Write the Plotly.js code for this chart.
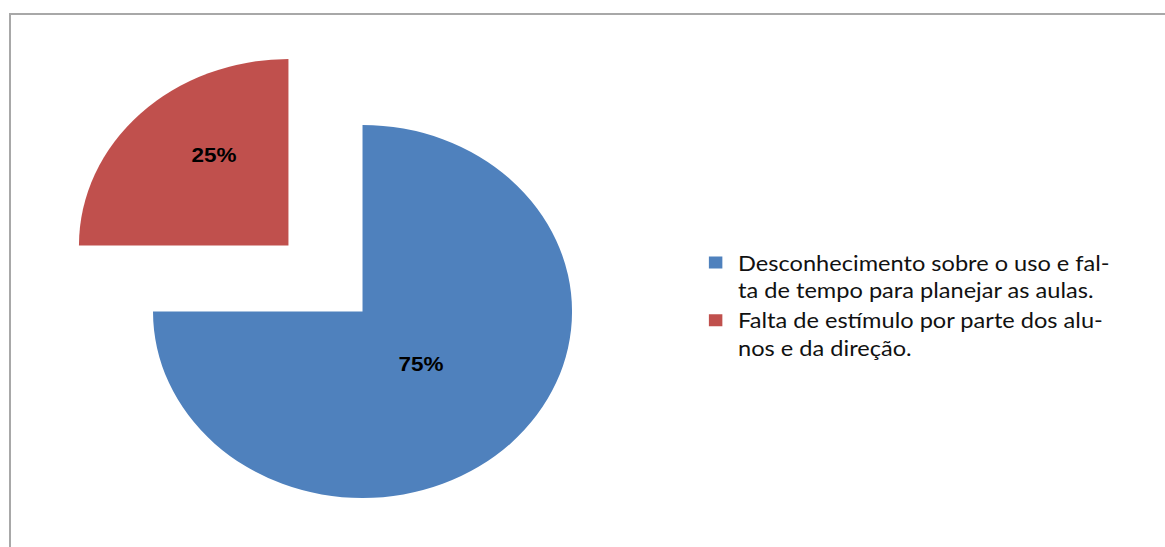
<!DOCTYPE html>
<html>
<head>
<meta charset="utf-8">
<script src="https://cdn.plot.ly/plotly-3.0.1.min.js"></script>
<style>
  html, body { margin: 0; padding: 0; background: #fff; }
  #frame { position: relative; width: 1165px; height: 547px; overflow: hidden; background: #fff; }
  #border { position: absolute; left: 9px; top: 13px; width: 1200px; height: 600px;
            border-left: 2px solid #a8a8a8; border-top: 2px solid #a8a8a8; }
  #chart { position: absolute; left: 0; top: 0; width: 1037px; height: 600px;
           transform: scaleX(1.1234); transform-origin: 0 0; }
</style>
</head>
<body>
<div id="frame">
  <div id="chart"></div>
  <div id="border"></div>
</div>
<script>
// Data
const categories = [
  "Desconhecimento sobre o uso e fal-<br>ta de tempo para planejar as aulas.",
  "Falta de estímulo por parte dos alu-<br>nos e da direção."
];
const values = [75, 25];
const sliceColors = ["#4F81BD", "#C0504D"];
const pulls = [0, 0.5];
const NB = "\u00a0";
const labelTemplates = [
  "%{percent}" + NB.repeat(5) + "<br>" + NB,
  NB.repeat(4) + "%{percent}<br>" + NB
];

const trace = {
  type: "pie",
  labels: categories,
  values: values,
  sort: false,
  direction: "clockwise",
  rotation: 0,
  pull: pulls,
  marker: { colors: sliceColors, line: { width: 0 } },
  texttemplate: labelTemplates,
  textposition: "inside",
  insidetextorientation: "horizontal",
  textfont: { family: "Liberation Sans, Arial, sans-serif", size: 20, color: "#000", weight: "bold" },
  hoverinfo: "none",
  domain: { x: [0.04142, 0.58096], y: [0.01458, 0.94708] }
};

const layout = {
  width: 1037,
  height: 600,
  margin: { l: 0, r: 0, t: 0, b: 0 },
  paper_bgcolor: "rgba(0,0,0,0)",
  plot_bgcolor: "rgba(0,0,0,0)",
  showlegend: true,
  legend: {
    x: 0.595, xanchor: "left",
    y: 0.596, yanchor: "top",
    valign: "top",
    font: { family: "Lato, Open Sans, sans-serif", size: 21, color: "#111" },
    tracegroupgap: 0,
    bgcolor: "rgba(0,0,0,0)"
  }
};

Plotly.newPlot("chart", [trace], layout, { staticPlot: true, displayModeBar: false });
</script>
</body>
</html>
